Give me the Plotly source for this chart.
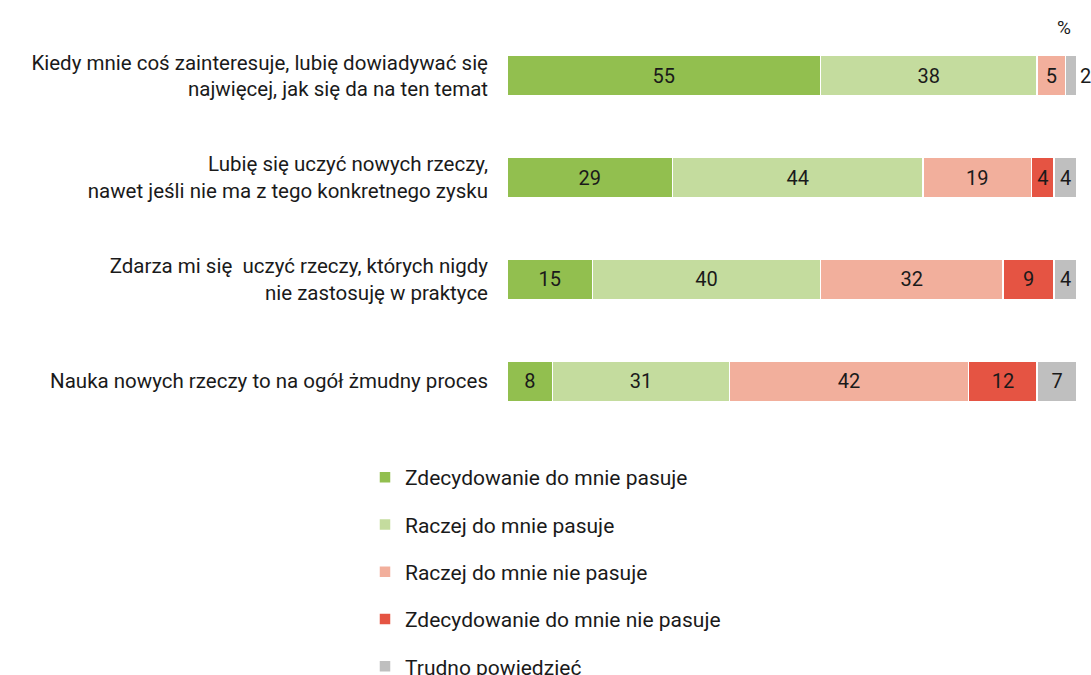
import plotly.graph_objects as go

categories = [
    "Kiedy mnie coś zainteresuje, lubię dowiadywać się<br>najwięcej, jak się da na ten temat",
    "Lubię się uczyć nowych rzeczy,<br>nawet jeśli nie ma z tego konkretnego zysku",
    "Zdarza mi się  uczyć rzeczy, których nigdy<br>nie zastosuję w praktyce",
    "Nauka nowych rzeczy to na ogół żmudny proces",
]
series_names = [
    "Zdecydowanie do mnie pasuje",
    "Raczej do mnie pasuje",
    "Raczej do mnie nie pasuje",
    "Zdecydowanie do mnie nie pasuje",
    "Trudno powiedzieć",
]
zdecydowanie_tak = [55, 29, 15, 8]
raczej_tak = [38, 44, 40, 31]
raczej_nie = [5, 19, 32, 42]
zdecydowanie_nie = [0, 4, 9, 12]
trudno = [2, 4, 4, 7]
colors = ["#92BF4F", "#C4DC9E", "#F2AF9C", "#E55443", "#BFBFBF"]

values = [zdecydowanie_tak, raczej_tak, raczej_nie, zdecydowanie_nie, trudno]

# figure taller than the window so the legend (cut at the bottom in the reference) fits
W, H = 1091, 720
ML, MR, MT = 507, 14, 25
PH = 407
MB = H - MT - PH
PW = W - ML - MR

fig = go.Figure()
for i, (name, vals, col) in enumerate(zip(series_names, values, colors)):
    texts = [str(v) if v > 0 else "" for v in vals]
    if i == 4:
        tpos = ["outside" if v < 3 else "inside" for v in vals]
    else:
        tpos = "inside"
    fig.add_trace(go.Bar(
        name=name, y=categories, x=vals, orientation="h",
        marker=dict(color=col, line=dict(color="white", width=1.5)),
        text=texts, textposition=tpos, insidetextanchor="middle",
        textfont=dict(size=20, color="#1a1a1a", family="Roboto"),
        constraintext="none", cliponaxis=False,
        legendgroup=f"g{i}", width=0.40,
    ))

fig.update_layout(
    barmode="stack",
    width=W, height=H,
    margin=dict(l=ML, r=MR, t=MT, b=MB),
    paper_bgcolor="white", plot_bgcolor="white",
    font=dict(family="Roboto", size=20, color="#1a1a1a"),
    showlegend=True,
    legend=dict(
        orientation="v", x=(365 - ML) / PW, xanchor="left",
        y=-(457 - (MT + PH)) / PH, yanchor="top",
        traceorder="grouped", tracegroupgap=17,
        font=dict(size=21, family="Roboto", color="#1a1a1a"),
    ),
    xaxis=dict(range=[0, 100], visible=False, fixedrange=True),
    yaxis=dict(
        categoryorder="array", categoryarray=categories, autorange="reversed",
        showgrid=False, showline=False, ticks="", ticklabelstandoff=18,
        tickfont=dict(size=20.5, family="Roboto", color="#1a1a1a"),
        fixedrange=True,
    ),
    annotations=[dict(
        text="%", x=(1064 - ML) / PW, y=1 - (27 - MT) / PH,
        xref="paper", yref="paper", showarrow=False,
        xanchor="center", yanchor="middle",
        font=dict(size=19, family="Roboto", color="#1a1a1a"),
    )],
)

fig.write_html("out.html", config={"displayModeBar": False})

with open("out.html", "r", encoding="utf-8") as f:
    html = f.read()
html = html.replace("<head>", "<head><style>html,body{margin:0;padding:0;overflow:hidden;}</style>", 1)
with open("out.html", "w", encoding="utf-8") as f:
    f.write(html)
